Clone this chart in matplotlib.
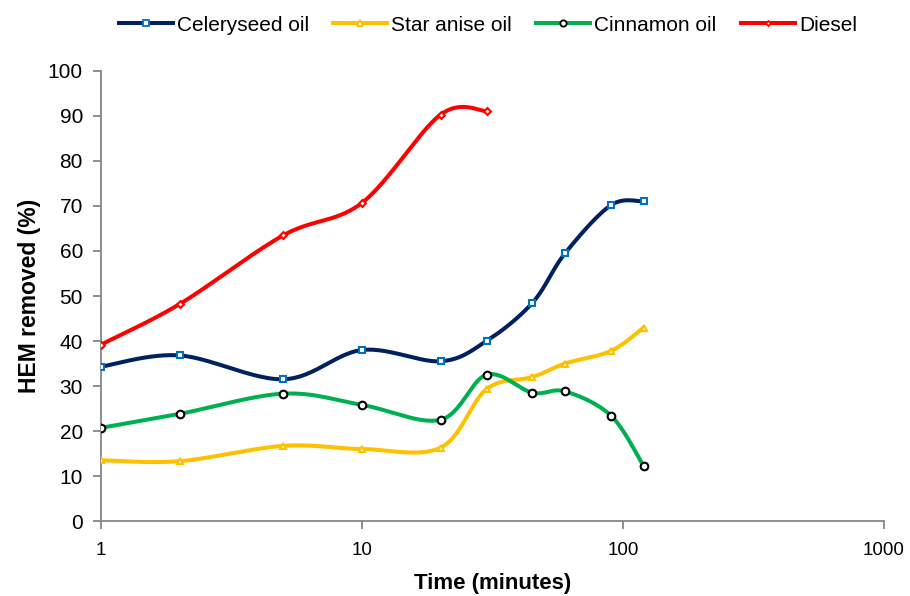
import numpy as np
import matplotlib
matplotlib.use("Agg")
import matplotlib.pyplot as plt
from matplotlib.lines import Line2D

# Data
time_oils = [1, 2, 5, 10, 20, 30, 45, 60, 90, 120]
celeryseed = [34.3, 36.8, 31.5, 38.0, 35.5, 40.0, 48.5, 59.5, 70.2, 71.0]
star_anise = [13.5, 13.3, 16.7, 16.0, 16.3, 29.3, 32.0, 35.0, 37.8, 43.0]
cinnamon = [20.7, 23.8, 28.3, 25.8, 22.5, 32.5, 28.5, 28.8, 23.4, 12.2]
time_diesel = [1, 2, 5, 10, 20, 30]
diesel = [39.2, 48.2, 63.5, 70.7, 90.3, 91.1]

plt.rcParams["font.family"] = ["Liberation Sans", "DejaVu Sans"]

fig = plt.figure(figsize=(9.1, 5.96), dpi=100)
ax = fig.add_axes([0.111, 0.1258, 0.8604, 0.7551])
ax.set_xscale("log")
ax.set_xlim(1, 1000)
ax.set_ylim(0, 100)


def smooth(ax, xs, ys, n=30):
    # Excel-like smoothed line: cubic Bezier through points, built in pixel space
    pts = ax.transData.transform(np.column_stack([xs, ys]))
    m = len(pts)
    out = [pts[0]]
    for i in range(m - 1):
        p0 = pts[i - 1] if i > 0 else pts[i]
        p1 = pts[i]
        p2 = pts[i + 1]
        p3 = pts[i + 2] if i + 2 < m else pts[i + 1]
        c1 = p1 + (p2 - p0) / 6.0
        c2 = p2 - (p3 - p1) / 6.0
        t = np.linspace(0, 1, n)[1:, None]
        seg = ((1 - t) ** 3) * p1 + 3 * ((1 - t) ** 2) * t * c1 + 3 * (1 - t) * t ** 2 * c2 + t ** 3 * p2
        out.extend(seg)
    out = ax.transData.inverted().transform(np.array(out))
    return out[:, 0], out[:, 1]


series = [
    ("Celeryseed oil", time_oils, celeryseed, "#002060", "s", "#0070C0", 5),
    ("Star anise oil", time_oils, star_anise, "#FFC000", "^", "#FFC000", 5),
    ("Cinnamon oil", time_oils, cinnamon, "#00B050", "o", "black", 5.5),
    ("Diesel", time_diesel, diesel, "#FF0000", "D", "#FF0000", 3.5),
]

handles = []
for name, xs, ys, col, mk, mcol, ms in series:
    sx, sy = smooth(ax, xs, ys)
    ax.plot(sx, sy, color=col, lw=2.9, solid_capstyle="round", zorder=2)
    ax.plot(xs, ys, ls="none", marker=mk, ms=ms, mfc="white", mec=mcol, mew=1.5, zorder=3)
    handles.append(Line2D([], [], color=col, lw=2.9, marker=mk, ms=ms - 1,
                          mfc="white", mec=mcol, mew=1.3, label=name))

for side in ["top", "right"]:
    ax.spines[side].set_visible(False)
for side in ["left", "bottom"]:
    ax.spines[side].set_color("#868686")
    ax.spines[side].set_linewidth(1.3)

ax.set_yticks(range(0, 101, 10))
ax.set_xticks([1, 10, 100, 1000])
ax.set_xticklabels(["1", "10", "100", "1000"])
ax.xaxis.set_minor_locator(matplotlib.ticker.NullLocator())
ax.tick_params(axis="both", colors="#868686", length=6, width=1.3, labelcolor="black")
ax.tick_params(axis="y", labelsize=15, pad=7)
ax.tick_params(axis="x", labelsize=13.5, pad=9)

ax.set_ylabel("HEM removed (%)", fontsize=16.5, fontweight="bold", labelpad=5)
ax.set_xlabel("Time (minutes)", fontsize=16, fontweight="bold", labelpad=10)

fig.legend(handles=handles, loc="upper center", bbox_to_anchor=(0.536, 1.005), ncol=4,
           frameon=False, fontsize=15, handlelength=2.6, handletextpad=0.2,
           columnspacing=1.15)

fig.savefig("out.png", dpi=100)
